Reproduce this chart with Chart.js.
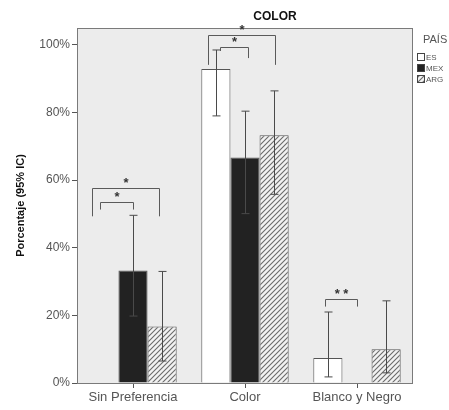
<!DOCTYPE html>
<html>
<head>
<meta charset="utf-8">
<script src="https://cdn.jsdelivr.net/npm/chart.js@4"></script>
<style>
  html, body { margin: 0; padding: 0; background: #fff; }
  #wrap { width: 449px; height: 410px; }
</style>
</head>
<body>
<div id="wrap"><canvas id="colorChart" width="449" height="410"></canvas></div>
<script>
  // Data (percent, 95% CI)
  const categories = ['Sin Preferencia', 'Color', 'Blanco y Negro'];
  const countries = ['ES', 'MEX', 'ARG'];
  const esValues = [0, 92.9, 7.4];
  const esLow = [null, 79.0, 1.8];
  const esHigh = [null, 98.5, 21.0];
  const mexValues = [33.3, 66.7, 0];
  const mexLow = [19.8, 50.1, null];
  const mexHigh = [49.6, 80.4, null];
  const argValues = [16.7, 73.3, 10.0];
  const argLow = [6.5, 55.8, 3.0];
  const argHigh = [33.0, 86.4, 24.3];
  const yTicks = [0, 20, 40, 60, 80, 100];

  // significance brackets: category, left/right in bar widths from category centre, top, legs, label
  const bracketCat = [0, 0, 1, 1, 2];
  const bracketFrom = [-1.41, -1.14, -1.28, -0.86, -1.1];
  const bracketTo = [0.9, 0, 1.03, 0.1, 0];
  const bracketTop = [57.6, 53.4, 103.0, 99.4, 24.9];
  const bracketLegL = [49.3, 51.3, 94.1, 98.2, 22.6];
  const bracketLegR = [49.3, 51.3, 94.1, 96.1, 22.6];
  const bracketLabel = ['*', '*', '*', '*', '* *'];

  function hatch() {
    const c = document.createElement('canvas');
    c.width = 5; c.height = 5;
    const g = c.getContext('2d');
    g.fillStyle = '#f2f2f2';
    g.fillRect(0, 0, 5, 5);
    g.strokeStyle = '#6a6a6a';
    g.lineWidth = 1.1;
    g.beginPath();
    g.moveTo(-1, 6); g.lineTo(6, -1);
    g.moveTo(-1, 1); g.lineTo(1, -1);
    g.moveTo(4, 6); g.lineTo(6, 4);
    g.stroke();
    return g.createPattern(c, 'repeat');
  }
  const argFill = hatch();
  const fills = ['#ffffff', '#222222', argFill];
  const lows = [esLow, mexLow, argLow];
  const highs = [esHigh, mexHigh, argHigh];

  const plotBg = {
    id: 'plotBg',
    beforeDatasetsDraw(chart) {
      const a = chart.chartArea, ctx = chart.ctx;
      ctx.save();
      ctx.fillStyle = '#ececec';
      ctx.fillRect(a.left, a.top, a.right - a.left, a.bottom - a.top);
      ctx.restore();
    },
    afterDraw(chart) {
      const a = chart.chartArea, ctx = chart.ctx;
      const y = chart.scales.y;
      ctx.save();
      ctx.strokeStyle = '#7a7a7a';
      ctx.lineWidth = 1;
      ctx.strokeRect(a.left + 0.5, a.top + 0.5, a.right - a.left - 1, a.bottom - a.top);

      // error bars
      ctx.strokeStyle = '#4a4a4a';
      for (let d = 0; d < 3; d++) {
        const meta = chart.getDatasetMeta(d);
        meta.data.forEach((bar, j) => {
          if (lows[d][j] == null) return;
          const x = Math.round(bar.x) + 0.5;
          const y1 = y.getPixelForValue(lows[d][j]);
          const y2 = y.getPixelForValue(highs[d][j]);
          ctx.beginPath();
          ctx.moveTo(x, y1); ctx.lineTo(x, y2);
          ctx.moveTo(x - 4, y1); ctx.lineTo(x + 4, y1);
          ctx.moveTo(x - 4, y2); ctx.lineTo(x + 4, y2);
          ctx.stroke();
        });
      }

      // brackets
      const bw = chart.getDatasetMeta(0).data[0].width;
      ctx.strokeStyle = '#5a5a5a';
      ctx.fillStyle = '#333';
      ctx.font = 'bold 13px "Liberation Sans", Arial, sans-serif';
      ctx.textAlign = 'center';
      ctx.textBaseline = 'middle';
      for (let i = 0; i < bracketCat.length; i++) {
        const cx = chart.scales.x.getPixelForValue(bracketCat[i]);
        const x1 = Math.round(cx + bracketFrom[i] * bw) + 0.5;
        const x2 = Math.round(cx + bracketTo[i] * bw) + 0.5;
        const yt = Math.round(y.getPixelForValue(bracketTop[i])) + 0.5;
        ctx.beginPath();
        ctx.moveTo(x1, y.getPixelForValue(bracketLegL[i]));
        ctx.lineTo(x1, yt);
        ctx.lineTo(x2, yt);
        ctx.lineTo(x2, y.getPixelForValue(bracketLegR[i]));
        ctx.stroke();
        ctx.fillText(bracketLabel[i], (x1 + x2) / 2, yt - 5);
      }

      // title
      ctx.fillStyle = '#111';
      ctx.font = 'bold 12px "Liberation Sans", Arial, sans-serif';
      ctx.fillText('COLOR', (a.left + a.right) / 2 + 30, 17);

      // legend
      ctx.textAlign = 'left';
      ctx.fillStyle = '#555';
      ctx.font = '11px "Liberation Sans", Arial, sans-serif';
      ctx.fillText('PAÍS', 423, 40);
      ctx.font = '8px "Liberation Sans", Arial, sans-serif';
      countries.forEach((c, i) => {
        const by = 53 + i * 11;
        ctx.fillStyle = fills[i];
        ctx.fillRect(417, by, 8, 8);
        ctx.strokeStyle = '#444';
        ctx.strokeRect(417.5, by + 0.5, 7, 7);
        ctx.fillStyle = '#555';
        ctx.fillText(c, 426, by + 4.5);
      });
      ctx.restore();
    }
  };

  const datasets = [esValues, mexValues, argValues].map((vals, i) => ({
    label: countries[i],
    data: vals,
    backgroundColor: fills[i],
    borderColor: '#555',
    borderWidth: 1,
    categoryPercentage: 0.78,
    barPercentage: 1
  }));

  new Chart(document.getElementById('colorChart'), {
    type: 'bar',
    data: { labels: categories, datasets: datasets },
    plugins: [plotBg],
    options: {
      responsive: false,
      animation: false,
      layout: { padding: { top: 28, right: 36, left: 0, bottom: 0 } },
      plugins: { legend: { display: false }, tooltip: { enabled: false } },
      scales: {
        x: {
          grid: { offset: false, drawOnChartArea: false, drawTicks: true, tickLength: 5, color: '#555' },
          border: { display: false },
          ticks: { color: '#555', font: { family: '"Liberation Sans", Arial', size: 13 }, padding: 2 },
          afterFit(s) { s.height = 27; }
        },
        y: {
          min: 0,
          max: 105,
          afterBuildTicks(s) { s.ticks = yTicks.map(v => ({ value: v })); },
          grid: { drawOnChartArea: false, drawTicks: true, tickLength: 5, color: '#555' },
          border: { display: false },
          ticks: {
            color: '#555',
            font: { family: '"Liberation Sans", Arial', size: 12 },
            padding: 2,
            callback: v => v + '%'
          },
          title: {
            display: true,
            text: 'Porcentaje (95% IC)',
            color: '#111',
            font: { family: '"Liberation Sans", Arial', size: 11, weight: 'bold' },
            padding: { top: 14, bottom: 0 }
          },
          afterFit(s) { s.width = 77; }
        }
      }
    }
  });
</script>
</body>
</html>
